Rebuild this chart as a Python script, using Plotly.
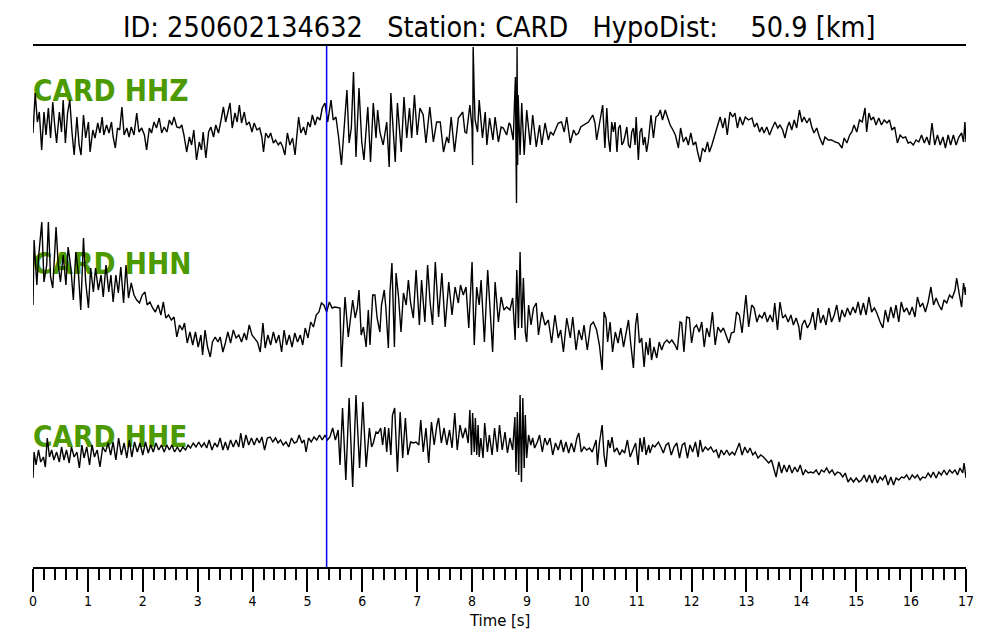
import plotly.graph_objects as go

TITLE = "ID: 250602134632   Station: CARD   HypoDist:    50.9 [km]"
STATION = "CARD"
CHANNELS = ["HHZ", "HHN", "HHE"]
PICK_TIME = 5.35          # seconds (blue line)
X_MAX = 17
X_LABEL = "Time [s]"

# (time [s], amplitude [arb. units])
HHZ = [
(0.00,-8),(0.04,32),(0.08,3),(0.115,13),(0.158,-25),(0.20,13),(0.237,-10),(0.28,17),(0.32,-13),(0.36,23),
(0.395,0),(0.43,-18),(0.48,13),(0.52,-7),(0.55,25),(0.59,-18),(0.63,12),(0.67,25),(0.71,-7),(0.75,-30),
(0.80,8),(0.84,-20),(0.875,-30),(0.92,10),(0.96,-13),(1.01,3),(1.04,-27),(1.09,-5),(1.13,-13),(1.18,2),
(1.22,-8),(1.26,8),(1.29,-10),(1.34,0),(1.385,-8),(1.43,3),(1.46,-12),(1.50,-23),(1.54,-3),(1.58,-5),
(1.62,18),(1.66,-10),(1.71,-3),(1.75,-12),(1.79,-2),(1.84,-10),(1.89,12),(1.93,-7),(1.98,-3),(2.03,-10),
(2.07,-25),(2.12,-3),(2.16,-8),(2.205,3),(2.25,-3),(2.30,7),(2.345,-8),(2.39,-2),(2.44,-7),(2.485,5),
(2.53,0),(2.57,8),(2.62,-2),(2.67,-3),(2.71,0),(2.75,-10),(2.80,-27),(2.85,-12),(2.89,-20),(2.93,-5),
(2.98,-35),(3.03,-17),(3.07,-25),(3.10,-7),(3.15,-33),(3.20,-7),(3.24,-2),(3.29,-12),(3.33,0),(3.38,-8),
(3.42,3),(3.47,18),(3.51,3),(3.56,15),(3.59,22),(3.63,-3),(3.68,12),(3.72,3),(3.76,20),(3.80,2),
(3.85,13),(3.89,0),(3.94,3),(3.99,-7),(4.03,2),(4.08,-5),(4.13,-3),(4.17,-12),(4.20,-27),(4.24,-8),
(4.29,-13),(4.33,-8),(4.38,-18),(4.42,-15),(4.47,-20),(4.51,-17),(4.55,-22),(4.59,-30),(4.635,-8),(4.68,-20),
(4.73,-13),(4.775,-30),(4.805,-10),(4.84,8),(4.88,-8),(4.93,-2),(4.97,-10),(5.01,3),(5.05,-2),(5.09,10),
(5.14,0),(5.18,8),(5.23,5),(5.27,17),(5.32,22),(5.37,3),(5.43,25),(5.47,5),(5.52,8),(5.57,-13),
(5.62,-40),(5.67,3),(5.72,35),(5.76,-18),(5.80,-3),(5.84,53),(5.885,-32),(5.94,37),(5.99,-17),(6.03,-35),
(6.10,18),(6.15,-37),(6.20,22),(6.25,-13),(6.28,15),(6.32,-7),(6.38,-20),(6.445,3),(6.49,-42),(6.52,32),
(6.57,-7),(6.60,-37),(6.64,22),(6.71,-27),(6.76,28),(6.81,-13),(6.86,17),(6.90,-13),(6.95,30),(7.00,-10),
(7.05,17),(7.11,10),(7.16,-18),(7.20,0),(7.23,18),(7.295,-17),(7.355,3),(7.42,3),(7.48,-27),(7.54,-12),
(7.575,-18),(7.62,8),(7.68,-27),(7.75,7),(7.83,13),(7.87,-7),(7.90,-8),(7.96,20),(8.00,-3),(8.01,-40),
(8.02,78),(8.04,30),(8.055,5),(8.10,-7),(8.13,25),(8.19,-13),(8.24,13),(8.27,-20),(8.32,7),(8.38,-15),
(8.42,8),(8.48,-17),(8.53,-2),(8.57,-3),(8.63,-10),(8.675,2),(8.70,0),(8.75,-15),(8.79,48),(8.80,-20),
(8.81,-78),(8.82,78),(8.83,-40),(8.84,30),(8.875,-30),(8.905,22),(8.95,-30),(8.996,15),(9.06,-20),(9.105,10),
(9.17,-22),(9.23,0),(9.27,-20),(9.33,2),(9.39,-15),(9.43,-7),(9.48,-10),(9.57,2),(9.63,3),(9.68,-7),
(9.725,8),(9.79,-18),(9.85,-5),(9.895,-10),(9.94,-8),(9.98,-2),(10.03,0),(10.08,2),(10.12,3),(10.20,10),
(10.24,2),(10.27,-15),(10.33,5),(10.38,20),(10.42,-23),(10.455,17),(10.485,-13),(10.515,-27),(10.545,3),(10.575,-7),
(10.605,3),(10.64,-27),(10.67,-3),(10.70,0),(10.73,-20),(10.76,-17),(10.79,-10),(10.82,-2),(10.85,-20),(10.88,-23),
(10.91,-7),(10.94,-3),(10.97,-20),(10.99,8),(11.03,-35),(11.06,-7),(11.09,-3),(11.12,-20),(11.15,-12),(11.18,-27),
(11.21,-17),(11.26,10),(11.305,-13),(11.35,8),(11.395,10),(11.43,15),(11.47,5),(11.52,15),(11.56,8),(11.61,0),
(11.66,-5),(11.705,-10),(11.76,-23),(11.80,-3),(11.85,-17),(11.90,-12),(11.94,-20),(11.985,-8),(12.03,-20),(12.075,-17),
(12.11,-27),(12.155,-37),(12.20,-23),(12.245,-27),(12.29,-17),(12.325,-27),(12.37,-20),(12.415,-10),(12.46,-3),(12.52,8),
(12.57,-3),(12.61,7),(12.65,-10),(12.70,13),(12.75,8),(12.79,12),(12.835,-3),(12.88,8),(12.93,0),(12.98,8),
(13.035,5),(13.10,7),(13.145,-2),(13.19,2),(13.24,-7),(13.28,-2),(13.32,-8),(13.37,-2),(13.42,-10),(13.47,-3),
(13.52,3),(13.57,-3),(13.61,0),(13.66,-5),(13.70,-13),(13.745,-2),(13.78,3),(13.825,-5),(13.87,5),(13.915,-3),
(13.965,15),(14.01,3),(14.05,8),(14.10,2),(14.15,7),(14.19,-2),(14.23,-8),(14.28,-3),(14.33,-12),(14.39,-20),
(14.43,-12),(14.49,-15),(14.55,-15),(14.62,-17),(14.68,-18),(14.74,-23),(14.78,-13),(14.83,-18),(14.88,-10),(14.92,-7),
(14.96,0),(15.01,-7),(15.06,5),(15.11,3),(15.16,17),(15.19,-7),(15.23,12),(15.27,5),(15.315,8),(15.36,0),
(15.41,7),(15.46,0),(15.51,5),(15.56,2),(15.605,5),(15.65,-5),(15.70,-2),(15.75,-18),(15.80,-10),(15.85,-13),
(15.90,-12),(15.945,-18),(15.99,-17),(16.04,-20),(16.09,-15),(16.14,-17),(16.19,-10),(16.24,-18),(16.285,-12),(16.335,-20),
(16.38,2),(16.43,-20),(16.48,-10),(16.53,-20),(16.58,-12),(16.625,-23),(16.675,-10),(16.72,-20),(16.77,-10),(16.82,-20),
(16.87,-12),(16.92,-8),(16.955,-17),(16.98,3),(17.00,-17),
]

HHN = [
(0.00,-15),(0.02,50),(0.07,5),(0.10,32),(0.16,68),(0.20,8),(0.25,25),(0.28,68),(0.32,13),(0.36,2),
(0.42,63),(0.46,25),(0.50,8),(0.55,35),(0.60,5),(0.64,43),(0.69,22),(0.735,-10),(0.78,38),(0.83,15),
(0.87,-20),(0.92,52),(0.96,8),(1.01,-18),(1.05,22),(1.10,-2),(1.14,22),(1.19,0),(1.24,15),(1.28,-7),
(1.33,25),(1.38,-2),(1.42,15),(1.46,-12),(1.51,15),(1.555,-3),(1.60,23),(1.65,-13),(1.695,25),(1.74,-8),
(1.79,7),(1.84,-5),(1.89,-10),(1.94,-13),(1.99,-5),(2.04,-2),(2.08,-15),(2.13,-12),(2.18,-18),(2.23,-22),
(2.28,-15),(2.33,-25),(2.375,-12),(2.42,-28),(2.47,-25),(2.52,-30),(2.57,-27),(2.62,-47),(2.67,-35),(2.72,-40),
(2.76,-33),(2.81,-53),(2.86,-42),(2.91,-55),(2.96,-42),(3.01,-57),(3.06,-45),(3.09,-65),(3.135,-40),(3.18,-57),
(3.23,-67),(3.27,-52),(3.32,-47),(3.37,-52),(3.41,-47),(3.46,-62),(3.505,-53),(3.55,-42),(3.60,-53),(3.65,-40),
(3.70,-48),(3.75,-45),(3.80,-52),(3.85,-43),(3.89,-50),(3.94,-35),(3.99,-45),(4.04,-48),(4.09,-52),(4.14,-62),
(4.19,-33),(4.23,-58),(4.28,-45),(4.33,-55),(4.38,-42),(4.43,-53),(4.48,-45),(4.53,-62),(4.575,-40),(4.62,-55),
(4.67,-45),(4.72,-57),(4.77,-43),(4.82,-52),(4.87,-45),(4.915,-55),(4.96,-38),(5.01,-48),(5.06,-32),(5.11,-37),
(5.16,-25),(5.21,-22),(5.255,-13),(5.30,-15),(5.35,-22),(5.40,-12),(5.45,-18),(5.50,-17),(5.594,-18),(5.62,-77),
(5.685,-7),(5.745,-47),(5.825,-10),(5.87,-28),(5.91,-18),(5.94,0),(5.98,-45),(6.02,-37),(6.07,-57),(6.11,-20),
(6.14,-55),(6.19,-5),(6.23,-5),(6.27,-28),(6.32,-42),(6.35,-15),(6.40,0),(6.43,-18),(6.475,-58),(6.505,-2),
(6.54,27),(6.585,-57),(6.615,17),(6.66,-7),(6.705,-42),(6.75,-3),(6.80,-15),(6.84,10),(6.88,-13),(6.93,-28),
(6.98,20),(7.04,-35),(7.08,10),(7.14,-32),(7.19,25),(7.235,-12),(7.28,-35),(7.33,28),(7.39,-27),(7.45,17),
(7.51,-37),(7.575,8),(7.635,-25),(7.69,3),(7.75,-13),(7.79,5),(7.84,-5),(7.89,3),(7.94,-38),(8.00,28),
(8.04,-55),(8.085,3),(8.13,-15),(8.165,10),(8.225,-52),(8.285,20),(8.33,-22),(8.375,-62),(8.42,8),(8.48,-32),
(8.53,-7),(8.58,-20),(8.63,-17),(8.69,-20),(8.74,-8),(8.785,-50),(8.815,20),(8.845,-38),(8.875,38),(8.905,-38),
(8.935,12),(8.97,-42),(8.995,-52),(9.03,-15),(9.075,-35),(9.12,-18),(9.17,-13),(9.21,-45),(9.27,-22),(9.33,-35),
(9.39,-30),(9.45,-53),(9.51,-25),(9.57,-48),(9.615,-40),(9.665,-62),(9.725,-28),(9.79,-48),(9.835,-27),(9.895,-60),
(9.945,-40),(10.00,-50),(10.04,-35),(10.10,-60),(10.16,-35),(10.21,-32),(10.27,-40),(10.32,-55),(10.37,-80),(10.405,-22),
(10.44,-28),(10.47,-52),(10.515,-32),(10.56,-62),(10.61,-42),(10.66,-53),(10.71,-38),(10.76,-57),(10.81,-42),(10.85,-30),
(10.89,-53),(10.94,-78),(10.98,-35),(11.01,-23),(11.05,-53),(11.09,-48),(11.135,-77),(11.17,-52),(11.21,-65),(11.24,-48),
(11.27,-70),(11.315,-57),(11.365,-68),(11.41,-52),(11.455,-60),(11.50,-53),(11.55,-50),(11.595,-53),(11.64,-50),(11.70,-55),
(11.74,-60),(11.79,-32),(11.82,-33),(11.86,-62),(11.91,-27),(11.96,-28),(12.00,-53),(12.045,-38),(12.09,-35),(12.14,-42),
(12.185,-32),(12.23,-57),(12.275,-38),(12.325,-47),(12.38,-22),(12.43,-55),(12.48,-37),(12.53,-42),(12.58,-38),(12.63,-45),
(12.68,-53),(12.725,-43),(12.775,-42),(12.82,-22),(12.87,-25),(12.92,-43),(12.96,-22),(12.99,-5),(13.04,-37),(13.095,-15),
(13.14,-18),(13.19,-32),(13.235,-25),(13.285,-28),(13.33,-22),(13.38,-32),(13.43,-25),(13.48,-32),(13.515,-13),(13.565,-40),
(13.61,-12),(13.66,-28),(13.71,-25),(13.76,-32),(13.81,-25),(13.855,-35),(13.905,-28),(13.955,-37),(13.98,-50),(14.013,-35),
(14.06,-30),(14.11,-38),(14.16,-33),(14.21,-22),(14.255,-40),(14.305,-18),(14.35,-33),(14.40,-25),(14.45,-35),(14.50,-18),
(14.55,-32),(14.60,-25),(14.645,-15),(14.695,-32),(14.74,-20),(14.79,-27),(14.84,-18),(14.89,-25),(14.94,-17),(14.985,-23),
(15.035,-12),(15.08,-25),(15.13,-13),(15.18,-25),(15.23,-7),(15.28,-22),(15.33,-18),(15.375,-23),(15.435,-32),(15.485,-38),
(15.53,-20),(15.58,-32),(15.63,-17),(15.68,-28),(15.725,-15),(15.775,-32),(15.82,-12),(15.87,-22),(15.92,-18),(15.97,-25),
(16.02,-17),(16.07,-27),(16.115,-7),(16.165,-17),(16.21,-13),(16.26,-22),(16.31,-12),(16.36,3),(16.41,-15),(16.455,-8),
(16.505,-15),(16.555,-20),(16.60,-10),(16.65,-13),(16.70,-5),(16.75,-8),(16.80,0),(16.83,12),(16.88,-5),(16.92,-17),
(16.955,7),(16.99,-5),(17.00,3),
]

HHE = [
(0.00,-23),(0.02,3),(0.055,-10),(0.10,5),(0.14,-7),(0.19,-2),(0.225,-12),(0.26,17),(0.30,-2),(0.34,5),
(0.38,-5),(0.43,3),(0.48,-7),(0.52,8),(0.565,-5),(0.61,5),(0.66,-8),(0.70,8),(0.75,-2),(0.80,3),
(0.845,-13),(0.89,10),(0.93,-3),(0.98,8),(1.03,-10),(1.075,10),(1.12,-2),(1.17,5),(1.22,-12),(1.27,8),
(1.32,3),(1.37,12),(1.415,0),(1.46,13),(1.51,-5),(1.56,17),(1.61,0),(1.66,12),(1.71,-3),(1.755,15),
(1.80,-2),(1.85,13),(1.90,3),(1.95,12),(2.00,0),(2.05,13),(2.10,2),(2.145,10),(2.19,3),(2.24,12),
(2.29,5),(2.34,10),(2.39,3),(2.44,10),(2.485,5),(2.53,10),(2.58,3),(2.63,8),(2.68,3),(2.73,8),
(2.78,5),(2.825,10),(2.87,7),(2.92,12),(2.97,8),(3.02,13),(3.07,8),(3.12,12),(3.165,7),(3.21,15),
(3.26,5),(3.31,12),(3.36,8),(3.41,17),(3.46,5),(3.505,13),(3.55,5),(3.60,15),(3.65,8),(3.70,15),
(3.75,8),(3.785,22),(3.83,7),(3.88,20),(3.93,10),(3.98,17),(4.03,10),(4.08,17),(4.125,12),(4.17,18),
(4.22,5),(4.27,17),(4.32,18),(4.37,13),(4.42,17),(4.465,12),(4.51,15),(4.56,10),(4.61,13),(4.66,8),
(4.71,17),(4.76,12),(4.805,13),(4.85,20),(4.90,12),(4.94,15),(4.976,3),(5.02,17),(5.07,13),(5.12,18),
(5.17,15),(5.22,20),(5.27,15),(5.32,20),(5.365,15),(5.41,18),(5.46,27),(5.51,15),(5.56,25),(5.594,-10),
(5.64,47),(5.70,-25),(5.76,57),(5.825,-32),(5.885,60),(5.95,-13),(6.01,53),(6.07,-12),(6.13,27),(6.17,8),
(6.20,12),(6.25,23),(6.29,22),(6.335,27),(6.37,10),(6.41,28),(6.445,3),(6.48,27),(6.52,0),(6.55,40),
(6.59,47),(6.64,-17),(6.69,43),(6.736,-3),(6.785,37),(6.83,0),(6.88,13),(6.93,12),(6.98,13),(7.03,10),
(7.065,35),(7.11,3),(7.16,27),(7.21,-8),(7.26,33),(7.31,10),(7.36,30),(7.39,37),(7.44,12),(7.49,27),
(7.54,10),(7.59,25),(7.635,7),(7.685,42),(7.73,5),(7.78,30),(7.83,17),(7.88,27),(7.93,12),(7.96,45),
(7.99,0),(8.01,42),(8.04,3),(8.06,37),(8.085,0),(8.11,30),(8.13,-2),(8.16,17),(8.20,-3),(8.23,32),
(8.28,3),(8.315,20),(8.365,0),(8.41,27),(8.46,3),(8.50,30),(8.55,5),(8.60,23),(8.645,2),(8.69,17),
(8.74,5),(8.78,38),(8.80,-17),(8.825,43),(8.85,-20),(8.875,60),(8.90,-27),(8.925,57),(8.95,-13),(8.97,40),
(8.995,-3),(9.03,20),(9.07,10),(9.105,17),(9.14,7),(9.19,13),(9.23,20),(9.28,3),(9.325,17),(9.37,10),
(9.42,17),(9.47,0),(9.52,12),(9.57,5),(9.62,15),(9.665,3),(9.71,13),(9.76,2),(9.81,12),(9.86,3),
(9.91,17),(9.945,22),(9.99,3),(10.04,8),(10.09,5),(10.14,7),(10.19,3),(10.225,10),(10.26,15),(10.285,-10),
(10.32,12),(10.37,30),(10.405,0),(10.44,-12),(10.48,15),(10.515,7),(10.55,18),(10.59,3),(10.64,7),(10.69,0),
(10.735,5),(10.78,2),(10.83,15),(10.88,-2),(10.93,5),(10.98,12),(11.025,-10),(11.06,17),(11.10,3),(11.135,18),
(11.17,0),(11.22,10),(11.24,2),(11.29,10),(11.33,8),(11.395,13),(11.44,8),(11.485,2),(11.535,10),(11.58,12),
(11.63,0),(11.68,8),(11.73,12),(11.78,-3),(11.83,10),(11.875,12),(11.925,-3),(11.97,10),(12.02,3),(12.07,13),
(12.12,-2),(12.155,15),(12.20,3),(12.25,8),(12.30,5),(12.35,8),(12.40,3),(12.45,5),(12.495,-3),(12.54,5),
(12.59,0),(12.64,5),(12.69,0),(12.74,3),(12.785,0),(12.835,7),(12.87,12),(12.92,0),(12.97,8),(13.02,2),
(13.065,7),(13.115,0),(13.16,3),(13.21,-3),(13.26,0),(13.31,-2),(13.36,-5),(13.405,-8),(13.455,-5),(13.50,-13),
(13.54,-22),(13.59,-7),(13.64,-18),(13.685,-10),(13.735,-17),(13.78,-10),(13.83,-18),(13.88,-12),(13.93,-17),(13.98,-10),
(14.03,-20),(14.075,-15),(14.125,-18),(14.17,-17),(14.22,-18),(14.27,-15),(14.32,-20),(14.365,-15),(14.415,-17),(14.46,-13),
(14.51,-18),(14.56,-15),(14.61,-20),(14.657,-17),(14.705,-18),(14.755,-22),(14.80,-18),(14.85,-27),(14.90,-23),(14.95,-27),
(15.00,-23),(15.05,-27),(15.095,-25),(15.145,-20),(15.19,-27),(15.24,-20),(15.29,-28),(15.34,-20),(15.386,-28),(15.435,-22),
(15.48,-25),(15.53,-20),(15.58,-30),(15.63,-22),(15.68,-30),(15.727,-23),(15.775,-25),(15.825,-22),(15.87,-23),(15.92,-20),
(15.97,-25),(16.02,-20),(16.07,-23),(16.115,-20),(16.165,-25),(16.21,-22),(16.26,-23),(16.31,-18),(16.36,-22),(16.405,-17),
(16.455,-23),(16.505,-17),(16.55,-20),(16.60,-15),(16.65,-20),(16.70,-15),(16.75,-18),(16.80,-15),(16.845,-20),(16.89,-13),
(16.94,-18),(16.965,-8),(17.00,-23),
]

WAVEFORMS = [HHZ, HHN, HHE]

# ---- layout constants (vertical placement of each trace, in plot units) ----
PLOT_H = 521
TRACE_OFFSETS = [442, 277, 112]
LABEL_Y = [473, 300, 127]

FONT = "DejaVu Sans Condensed, DejaVu Sans, sans-serif"
GREEN = "#4c9a00"

fig = go.Figure()

# channel labels drawn first so waveforms sit on top
for ch, ly in zip(CHANNELS, LABEL_Y):
    fig.add_trace(go.Scatter(
        x=[0], y=[ly], mode="text", text=[f"<b>{STATION} {ch}</b>"],
        textposition="middle right",
        textfont=dict(family=FONT, size=29.5, color=GREEN),
        hoverinfo="skip", showlegend=False, cliponaxis=False,
    ))

for samples, off in zip(WAVEFORMS, TRACE_OFFSETS):
    t = [s[0] for s in samples]
    a = [off + s[1] for s in samples]
    fig.add_trace(go.Scatter(x=t, y=a, mode="lines",
                             line=dict(color="black", width=1.4),
                             hoverinfo="skip", showlegend=False))

fig.add_shape(type="line", xref="x", yref="paper", x0=PICK_TIME, x1=PICK_TIME,
              y0=0, y1=1, line=dict(color="#0000ee", width=1.5))

# the page body adds an 8 px margin; size the figure so it fits the window
fig.update_layout(
    width=984, height=624,
    margin=dict(l=25, r=26, t=38, b=65),
    plot_bgcolor="white", paper_bgcolor="white",
    showlegend=False,
    xaxis=dict(
        range=[0, X_MAX], showgrid=False, zeroline=False,
        showline=True, linecolor="black", linewidth=2, mirror=True,
        ticks="outside", tickmode="linear", tick0=0, dtick=1,
        ticklen=23, tickwidth=2, tickcolor="black",
        ticklabelstandoff=-3,
        tickfont=dict(family=FONT, size=14, color="black"),
        minor=dict(ticks="outside", dtick=0.2, tick0=0, ticklen=11,
                   tickwidth=2, tickcolor="black", showgrid=False),
    ),
    yaxis=dict(range=[0, PLOT_H], visible=False, showgrid=False, zeroline=False),
    annotations=[
        dict(text=TITLE.replace(" ", "\u00a0"), xref="paper", yref="paper",
             x=0.5, y=1, yshift=19, xanchor="center", yanchor="middle",
             showarrow=False, font=dict(family=FONT, size=28.5, color="black")),
        dict(text=X_LABEL, xref="paper", yref="paper", x=0.5, y=0,
             yshift=-53, xanchor="center", yanchor="middle",
             showarrow=False, font=dict(family=FONT, size=16.5, color="black")),
    ],
)

fig.write_html("out.html")
